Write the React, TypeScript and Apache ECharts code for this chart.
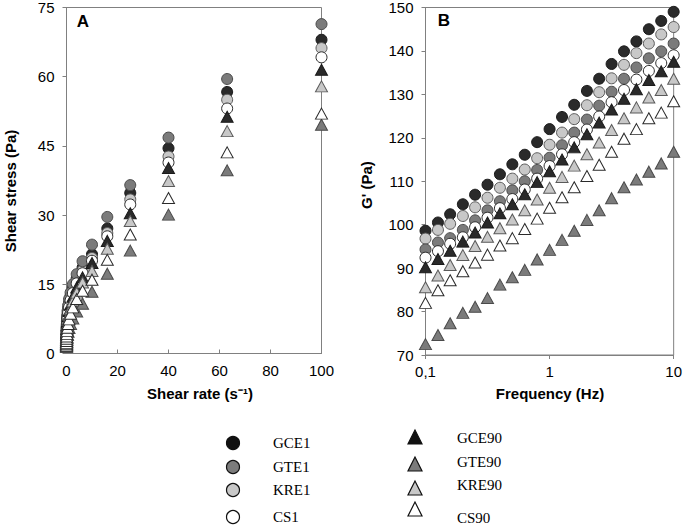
import React, { useEffect, useRef } from 'react';
import * as echarts from 'echarts';

// ---------- Panel A: flow curves ----------
const shearRate = [0.01, 0.016, 0.025, 0.04, 0.063, 0.1, 0.16, 0.25, 0.4, 0.63, 1, 1.6, 2.5, 4, 6.3, 10, 16, 25, 40, 63, 100];
const stressGCE1 = [2.7, 3.1, 3.6, 4.2, 4.9, 5.6, 6.5, 7.4, 8.5, 9.7, 11.0, 12.5, 14.2, 16.3, 18.6, 21.5, 27.1, 34.8, 44.5, 56.7, 68.0];
const stressGTE1 = [3.0, 3.5, 4.0, 4.6, 5.3, 6.1, 7.0, 8.0, 9.2, 10.4, 11.8, 13.2, 15.0, 17.2, 20.0, 23.6, 29.6, 36.5, 46.8, 59.5, 71.4];
const stressKRE1 = [2.5, 2.9, 3.4, 4.0, 4.7, 5.4, 6.2, 7.1, 8.1, 9.3, 10.5, 12.0, 13.7, 15.8, 18.0, 20.7, 26.1, 33.4, 42.7, 55.0, 66.2];
const stressCS1 = [2.3, 2.7, 3.2, 3.7, 4.3, 5.0, 5.8, 6.7, 7.7, 8.8, 10.0, 11.5, 13.1, 15.2, 17.4, 20.1, 25.4, 32.3, 41.4, 53.1, 64.2];
const stressGCE90 = [2.1, 2.5, 2.9, 3.4, 4.0, 4.6, 5.3, 6.1, 7.0, 8.0, 9.2, 10.6, 12.3, 14.3, 16.5, 19.6, 24.4, 30.4, 40.2, 51.3, 61.5];
const stressGTE90 = [1.4, 1.5, 1.7, 1.9, 2.2, 2.5, 2.9, 3.4, 4.0, 4.7, 5.5, 6.4, 7.6, 9.1, 10.8, 13.4, 17.3, 22.3, 30.1, 39.7, 49.6];
const stressKRE90 = [1.9, 2.2, 2.6, 3.1, 3.6, 4.1, 4.8, 5.5, 6.3, 7.3, 8.4, 9.7, 11.3, 13.2, 15.4, 17.9, 22.7, 28.7, 37.4, 48.2, 57.9];
const stressCS90 = [1.7, 2.0, 2.3, 2.7, 3.2, 3.7, 4.2, 4.9, 5.6, 6.4, 7.4, 8.6, 10.0, 11.8, 13.6, 16.0, 20.3, 25.8, 33.7, 43.6, 52.0];

// ---------- Panel B: frequency sweeps ----------
const frequency = [0.1, 0.126, 0.158, 0.2, 0.251, 0.316, 0.398, 0.501, 0.631, 0.794, 1, 1.26, 1.58, 2, 2.51, 3.16, 3.98, 5.01, 6.31, 7.94, 10];
const gGCE1 = [98.6, 100.5, 102.4, 104.7, 106.9, 109.2, 111.6, 113.9, 116.1, 119.0, 122.0, 124.8, 127.6, 130.8, 133.6, 137.0, 139.9, 142.2, 145.0, 146.9, 149.0];
const gGTE1 = [94.3, 95.9, 96.9, 98.8, 101.0, 103.3, 105.4, 107.9, 110.0, 112.6, 115.4, 118.3, 121.2, 124.2, 127.4, 130.6, 133.6, 136.2, 138.3, 139.9, 141.7];
const gKRE1 = [96.8, 98.8, 100.2, 102.0, 104.0, 106.2, 108.5, 110.6, 112.7, 115.3, 118.4, 121.2, 124.3, 127.5, 130.5, 133.7, 136.8, 139.5, 141.7, 143.8, 145.5];
const gCS1 = [92.4, 93.9, 95.6, 97.1, 99.4, 101.6, 103.8, 105.9, 108.1, 110.6, 113.5, 116.2, 119.0, 121.9, 124.9, 128.2, 131.0, 133.4, 135.4, 137.2, 139.0];
const gGCE90 = [90.2, 92.1, 94.0, 96.1, 98.2, 100.5, 102.6, 104.7, 107.0, 109.8, 112.3, 115.0, 117.8, 120.8, 123.5, 126.5, 129.0, 131.2, 133.3, 135.3, 137.5];
const gGTE90 = [72.5, 74.6, 77.3, 79.7, 81.1, 83.1, 86.2, 87.9, 89.6, 92.0, 94.2, 96.5, 98.6, 101.1, 103.3, 106.1, 108.6, 110.4, 112.2, 114.1, 116.8];
const gKRE90 = [85.6, 88.3, 90.7, 93.0, 95.1, 97.2, 99.2, 101.2, 103.3, 105.8, 108.5, 111.0, 113.6, 116.2, 118.9, 121.8, 124.5, 127.0, 129.3, 131.0, 133.6];
const gCS90 = [82.0, 84.9, 87.2, 89.3, 91.3, 93.1, 95.2, 96.9, 99.0, 101.4, 103.9, 106.3, 108.6, 111.2, 113.8, 116.8, 119.8, 122.0, 124.5, 125.8, 128.4];

// tick labels
const stressTicks = [0, 15, 30, 45, 60, 75];
const rateTicks = [0, 20, 40, 60, 80, 100];
const modulusTicks = [70, 80, 90, 100, 110, 120, 130, 140, 150];
const freqTicks = ['0,1', '1', '10'];

const legendCircles = ['GCE1', 'GTE1', 'KRE1', 'CS1'];
const legendTriangles = ['GCE90', 'GTE90', 'KRE90', 'CS90'];

const SANS = '"Liberation Sans", Arial, sans-serif';
const SERIF = '"Liberation Serif", "Times New Roman", serif';

const styleOf: Record<string, { fill: string; border: string; symbol: string }> = {
  GCE1: { fill: '#2a2a2a', border: '#1a1a1a', symbol: 'circle' },
  GTE1: { fill: '#7b7b7b', border: '#4a4a4a', symbol: 'circle' },
  KRE1: { fill: '#c8c8c8', border: '#5a5a5a', symbol: 'circle' },
  CS1: { fill: '#ffffff', border: '#2a2a2a', symbol: 'circle' },
  GCE90: { fill: '#2a2a2a', border: '#1a1a1a', symbol: 'triangle' },
  GTE90: { fill: '#7b7b7b', border: '#4a4a4a', symbol: 'triangle' },
  KRE90: { fill: '#c8c8c8', border: '#5a5a5a', symbol: 'triangle' },
  CS90: { fill: '#ffffff', border: '#2a2a2a', symbol: 'triangle' },
};

const panelA: [string, number[]][] = [
  ['GCE1', stressGCE1], ['KRE1', stressKRE1], ['GTE1', stressGTE1], ['CS1', stressCS1],
  ['GCE90', stressGCE90], ['KRE90', stressKRE90], ['GTE90', stressGTE90], ['CS90', stressCS90],
];
const panelB: [string, number[]][] = [
  ['GCE1', gGCE1], ['KRE1', gKRE1], ['GTE1', gGTE1], ['CS1', gCS1],
  ['GCE90', gGCE90], ['KRE90', gKRE90], ['GTE90', gGTE90], ['CS90', gCS90],
];

export default function App() {
  const ref = useRef<HTMLDivElement>(null);
  useEffect(() => {
    if (!ref.current) return;
    const chart = echarts.init(ref.current, undefined, { renderer: 'svg' });
    const axisColor = '#808080';
    const mkSeries = (name: string, xs: number[], ys: number[], idx: number) => {
      const s = styleOf[name];
      return {
        name,
        type: 'scatter',
        xAxisIndex: idx,
        yAxisIndex: idx,
        symbol: s.symbol,
        symbolSize: s.symbol === 'circle' ? 11 : [12, 11],
        itemStyle: { color: s.fill, borderColor: s.border, borderWidth: 1, opacity: 1 },
        data: xs.map((x, i) => [x, ys[i]]),
        silent: true,
      };
    };
    const series: any[] = [
      ...panelA.map(([n, ys]) => mkSeries(n, shearRate, ys, 0)),
      ...panelB.map(([n, ys]) => mkSeries(n, frequency, ys, 1)),
    ];

    const graphics: any[] = [];
    const txt = (x: number, y: number, text: string, font: string, size: number, weight: string, rotation = 0, align = 'center') => ({
      type: 'text', x, y, rotation,
      style: { text, fontFamily: font, fontSize: size, fontWeight: weight, fill: '#000', align, verticalAlign: 'middle' },
      z: 100,
    });
    graphics.push(txt(10, 191, 'Shear stress (Pa)', SANS, 15, 'bold', Math.PI / 2));
    graphics.push(txt(200, 393, 'Shear rate (s⁻¹)', SANS, 15, 'bold'));
    graphics.push(txt(366, 185, "G' (Pa)", SANS, 15, 'bold', Math.PI / 2));
    graphics.push(txt(550, 393, 'Frequency (Hz)', SANS, 15, 'bold'));
    graphics.push(txt(83, 21, 'A', SANS, 17, 'bold'));
    graphics.push(txt(444, 20, 'B', SANS, 17, 'bold'));

    const circleY = [443, 467, 490, 517];
    const triY = [438, 465, 489, 510];
    const triTextY = [438, 462, 485, 518];
    legendCircles.forEach((n, i) => {
      const s = styleOf[n];
      graphics.push({
        type: 'circle', shape: { cx: 233, cy: circleY[i], r: 6.5 },
        style: { fill: s.fill === '#2a2a2a' ? '#111' : s.fill, stroke: '#111', lineWidth: 1.2 }, z: 100,
      });
      graphics.push(txt(273, circleY[i], n, SERIF, 15, 'normal', 0, 'left'));
    });
    legendTriangles.forEach((n, i) => {
      const s = styleOf[n];
      const cy = triY[i];
      graphics.push({
        type: 'polygon',
        shape: { points: [[415, cy - 8], [408, cy + 6], [422, cy + 6]] },
        style: { fill: s.fill === '#2a2a2a' ? '#111' : s.fill, stroke: '#111', lineWidth: 1.2 }, z: 100,
      });
      graphics.push(txt(457, triTextY[i], n, SERIF, 15, 'normal', 0, 'left'));
    });

    const labelStyle = { color: '#000', fontFamily: SANS, fontSize: 15 };
    chart.setOption({
      animation: false,
      backgroundColor: '#fff',
      grid: [
        { left: 66.5, top: 5, width: 255, height: 348.5, show: true, borderColor: axisColor, borderWidth: 1, backgroundColor: 'transparent' },
        { left: 425.5, top: 5, width: 250, height: 350, show: true, borderColor: axisColor, borderWidth: 1, backgroundColor: 'transparent' },
      ],
      xAxis: [
        {
          gridIndex: 0, type: 'value', min: rateTicks[0], max: rateTicks[rateTicks.length - 1], interval: 20,
          axisLine: { show: true, onZero: false, lineStyle: { color: axisColor } },
          axisTick: { show: true, inside: true, length: 4, lineStyle: { color: axisColor } },
          axisLabel: { ...labelStyle, margin: 9 },
          splitLine: { show: false },
        },
        {
          gridIndex: 1, type: 'log', logBase: 10, min: 0.1, max: 10,
          axisLine: { show: true, onZero: false, lineStyle: { color: axisColor } },
          axisTick: { show: true, inside: false, length: 4, lineStyle: { color: axisColor } },
          minorTick: { show: false },
          axisLabel: {
            ...labelStyle, margin: 9,
            formatter: (v: number) => (Math.abs(v - 0.1) < 1e-9 ? freqTicks[0] : Math.abs(v - 1) < 1e-9 ? freqTicks[1] : freqTicks[2]),
          },
          splitLine: { show: false },
        },
      ],
      yAxis: [
        {
          gridIndex: 0, type: 'value', min: stressTicks[0], max: stressTicks[stressTicks.length - 1], interval: 15,
          axisLine: { show: true, onZero: false, lineStyle: { color: axisColor } },
          axisTick: { show: true, inside: false, length: 4, lineStyle: { color: axisColor } },
          axisLabel: { ...labelStyle, margin: 12 },
          splitLine: { show: false },
        },
        {
          gridIndex: 1, type: 'value', min: modulusTicks[0], max: modulusTicks[modulusTicks.length - 1], interval: 10,
          axisLine: { show: true, onZero: false, lineStyle: { color: axisColor } },
          axisTick: { show: true, inside: false, length: 4, lineStyle: { color: axisColor } },
          axisLabel: { ...labelStyle, margin: 12 },
          splitLine: { show: false },
        },
      ],
      series,
      graphic: graphics,
    });
    return () => chart.dispose();
  }, []);
  return <div ref={ref} style={{ position: 'fixed', left: 0, top: 0, width: 685, height: 527, background: '#fff' }} />;
}
